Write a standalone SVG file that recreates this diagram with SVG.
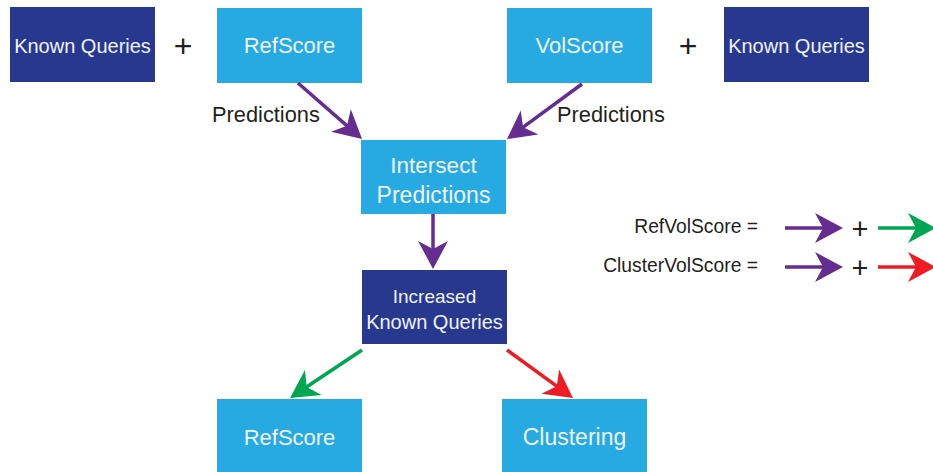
<svg xmlns="http://www.w3.org/2000/svg" width="933" height="472" viewBox="0 0 933 472">
<style>
.dark{fill:#29388F}
.light{fill:#27AAE1}
.bt{fill:#EEF3FA;font-family:"Liberation Sans",Arial,sans-serif;text-anchor:middle}
.t{fill:#231F20;font-family:"Liberation Sans",Arial,sans-serif}
.ln{fill:none;stroke-width:3.5}
</style>
<defs>
<marker id="hp" markerUnits="userSpaceOnUse" markerWidth="32" markerHeight="32" viewBox="0 0 32 32" refX="12" refY="16" orient="auto"><path d="M30,16 L2,1 L10,16 L2,31 Z" fill="#662D91"/></marker>
<marker id="hg" markerUnits="userSpaceOnUse" markerWidth="32" markerHeight="32" viewBox="0 0 32 32" refX="12" refY="16" orient="auto"><path d="M30,16 L2,1 L10,16 L2,31 Z" fill="#00A651"/></marker>
<marker id="hr" markerUnits="userSpaceOnUse" markerWidth="32" markerHeight="32" viewBox="0 0 32 32" refX="12" refY="16" orient="auto"><path d="M30,16 L2,1 L10,16 L2,31 Z" fill="#ED1C24"/></marker>
</defs>
<rect width="933" height="472" fill="#fff"/>
<g id="kq1"><rect class="dark" x="10" y="7" width="145" height="75"/><text class="bt" x="82.5" y="53" font-size="20">Known Queries</text></g>
<g id="refscore1"><rect class="light" x="217" y="8" width="145" height="75"/><text class="bt" x="289.5" y="53" font-size="22">RefScore</text></g>
<g id="volscore"><rect class="light" x="507" y="8" width="145" height="75"/><text class="bt" x="579.5" y="53" font-size="22">VolScore</text></g>
<g id="kq2"><rect class="dark" x="724" y="7" width="145" height="75"/><text class="bt" x="796.5" y="53" font-size="20">Known Queries</text></g>
<g id="intersect"><rect class="light" x="361" y="140" width="145" height="74"/><text class="bt" x="433.5" y="173" font-size="22.5">Intersect</text><text class="bt" x="433.5" y="203" font-size="23">Predictions</text></g>
<g id="increased"><rect class="dark" x="362" y="270" width="145" height="74"/><text class="bt" x="434.5" y="303" font-size="19">Increased</text><text class="bt" x="434.5" y="329" font-size="20">Known Queries</text></g>
<g id="refscore2"><rect class="light" x="217" y="399" width="145" height="73"/><text class="bt" x="289.5" y="445" font-size="22">RefScore</text></g>
<g id="clustering"><rect class="light" x="502" y="399" width="145" height="73"/><text class="bt" x="574.5" y="445" font-size="23">Clustering</text></g>
<g id="labels">
<text class="t" x="183" y="57" font-size="32" text-anchor="middle">+</text>
<text class="t" x="688" y="57" font-size="32" text-anchor="middle">+</text>
<text class="t" x="212" y="122" font-size="21.8">Predictions</text>
<text class="t" x="557" y="122" font-size="21.8">Predictions</text>
<text class="t" x="758" y="233" font-size="19.3" text-anchor="end">RefVolScore =</text>
<text class="t" x="758" y="272" font-size="19.3" text-anchor="end">ClusterVolScore =</text>
<text class="t" x="860" y="238.5" font-size="29" text-anchor="middle">+</text>
<text class="t" x="860" y="277.5" font-size="29" text-anchor="middle">+</text>
</g>
<g id="connectors">
<line class="ln" stroke="#662D91" x1="298" y1="83" x2="348.5" y2="127.1" marker-end="url(#hp)"/>
<line class="ln" stroke="#662D91" x1="582" y1="84" x2="521.5" y2="128.4" marker-end="url(#hp)"/>
<line class="ln" stroke="#662D91" x1="433" y1="214" x2="433" y2="251" marker-end="url(#hp)"/>
<line class="ln" stroke="#00A651" x1="362" y1="350" x2="305" y2="388" marker-end="url(#hg)"/>
<line class="ln" stroke="#ED1C24" x1="507" y1="350" x2="558.4" y2="387.4" marker-end="url(#hr)"/>
<line class="ln" stroke="#662D91" x1="785" y1="228" x2="825" y2="228" marker-end="url(#hp)"/>
<line class="ln" stroke="#00A651" x1="878" y1="228" x2="918" y2="228" marker-end="url(#hg)"/>
<line class="ln" stroke="#662D91" x1="785" y1="267" x2="825" y2="267" marker-end="url(#hp)"/>
<line class="ln" stroke="#ED1C24" x1="878" y1="267" x2="918" y2="267" marker-end="url(#hr)"/>
</g>
</svg>
